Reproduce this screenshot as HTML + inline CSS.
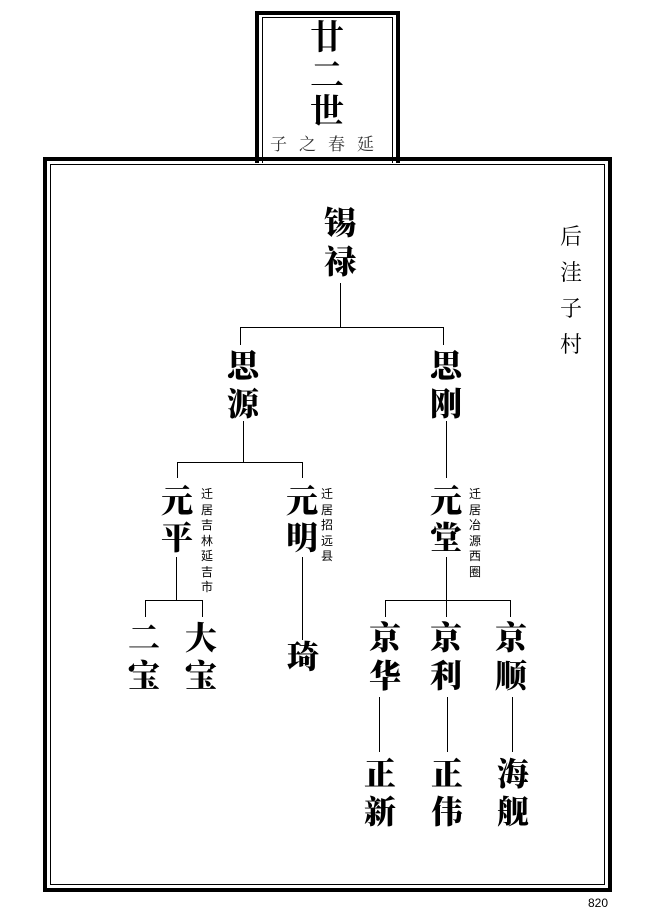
<!DOCTYPE html>
<html><head><meta charset="utf-8"><style>
body{margin:0;width:653px;height:916px;background:#fff;position:relative;overflow:hidden;font-family:"Liberation Serif","Noto Serif CJK SC",serif}
.b{position:absolute;box-sizing:border-box}
.c{position:absolute;width:40px;margin-left:-20px;text-align:center;font-size:32px;line-height:34px;font-weight:900;color:#000}
.s{position:absolute;width:16px;margin-left:-8px;text-align:center;font-size:12px;line-height:15.5px;color:#000;font-family:"Noto Sans CJK SC",sans-serif}
.h{position:absolute;height:1px;background:#000}
.v{position:absolute;width:1px;background:#000}
</style></head><body>
<div class="b" style="left:255px;top:11px;width:145px;height:152px;border:4px solid #000;border-bottom:none"></div>
<div class="b" style="left:262px;top:17px;width:131px;height:146px;border:1px solid #000;border-bottom:none"></div>
<div class="b" style="left:43px;top:157px;width:569px;height:735px;border:4px solid #000;background:transparent"></div>
<div class="b" style="left:50px;top:164px;width:555px;height:721px;border:1px solid #000"></div>

<div class="c" style="left:327px;top:22px;font-weight:700;font-size:34px">廿</div>
<div class="c" style="left:327px;top:60px;font-weight:700;font-size:34px">二</div>
<div class="c" style="left:327px;top:96px;font-weight:700;font-size:34px">世</div>
<div style="position:absolute;left:270px;top:132px;width:120px;font-size:17px;line-height:22px;letter-spacing:12px;font-family:'Noto Serif CJK SC',serif;color:#333">子之春延</div>

<div style="position:absolute;left:560px;top:218px;width:24px;font-size:22px;line-height:36px;font-family:'Noto Serif CJK SC',serif">后洼子村</div>

<div class="c" style="left:340px;top:206px">锡</div><div class="c" style="left:340px;top:245px">禄</div>
<div class="v" style="left:340px;top:283px;height:44px"></div>
<div class="h" style="left:240px;top:327px;width:204px"></div>
<div class="v" style="left:240px;top:327px;height:18px"></div>
<div class="v" style="left:443px;top:327px;height:18px"></div>

<div class="c" style="left:243px;top:349px">思</div><div class="c" style="left:243px;top:387px">源</div>
<div class="c" style="left:446px;top:349px">思</div><div class="c" style="left:446px;top:387px">刚</div>
<div class="v" style="left:243px;top:421px;height:41px"></div>
<div class="h" style="left:177px;top:462px;width:126px"></div>
<div class="v" style="left:177px;top:462px;height:16px"></div>
<div class="v" style="left:302px;top:462px;height:16px"></div>
<div class="v" style="left:446px;top:421px;height:57px"></div>

<div class="c" style="left:177px;top:484px">元</div><div class="c" style="left:177px;top:521px">平</div>
<div class="c" style="left:302px;top:484px">元</div><div class="c" style="left:302px;top:521px">明</div>
<div class="c" style="left:446px;top:484px">元</div><div class="c" style="left:446px;top:521px">堂</div>
<div class="s" style="left:207px;top:486px">迁居吉林延吉市</div>
<div class="s" style="left:327px;top:486px">迁居招远县</div>
<div class="s" style="left:475px;top:486px">迁居冶源西圈</div>

<div class="v" style="left:176px;top:557px;height:43px"></div>
<div class="h" style="left:145px;top:600px;width:58px"></div>
<div class="v" style="left:145px;top:600px;height:17px"></div>
<div class="v" style="left:202px;top:600px;height:17px"></div>
<div class="c" style="left:144px;top:621px">二</div><div class="c" style="left:144px;top:659px">宝</div>
<div class="c" style="left:201px;top:621px">大</div><div class="c" style="left:201px;top:659px">宝</div>

<div class="v" style="left:302px;top:557px;height:83px"></div>
<div class="c" style="left:303px;top:640px">琦</div>

<div class="v" style="left:446px;top:557px;height:60px"></div>
<div class="h" style="left:385px;top:600px;width:126px"></div>
<div class="v" style="left:385px;top:600px;height:17px"></div>
<div class="v" style="left:510px;top:600px;height:17px"></div>
<div class="c" style="left:385px;top:621px">京</div><div class="c" style="left:385px;top:659px">华</div>
<div class="c" style="left:446px;top:621px">京</div><div class="c" style="left:446px;top:659px">利</div>
<div class="c" style="left:511px;top:621px">京</div><div class="c" style="left:511px;top:659px">顺</div>
<div class="v" style="left:379px;top:697px;height:55px"></div>
<div class="v" style="left:447px;top:697px;height:55px"></div>
<div class="v" style="left:512px;top:697px;height:55px"></div>
<div class="c" style="left:380px;top:757px">正</div><div class="c" style="left:380px;top:795px">新</div>
<div class="c" style="left:447px;top:757px">正</div><div class="c" style="left:447px;top:795px">伟</div>
<div class="c" style="left:513px;top:757px">海</div><div class="c" style="left:513px;top:795px">舰</div>

<div style="position:absolute;left:588px;top:896px;font-family:'Liberation Sans',sans-serif;font-size:12px;color:#000">820</div>
</body></html>
